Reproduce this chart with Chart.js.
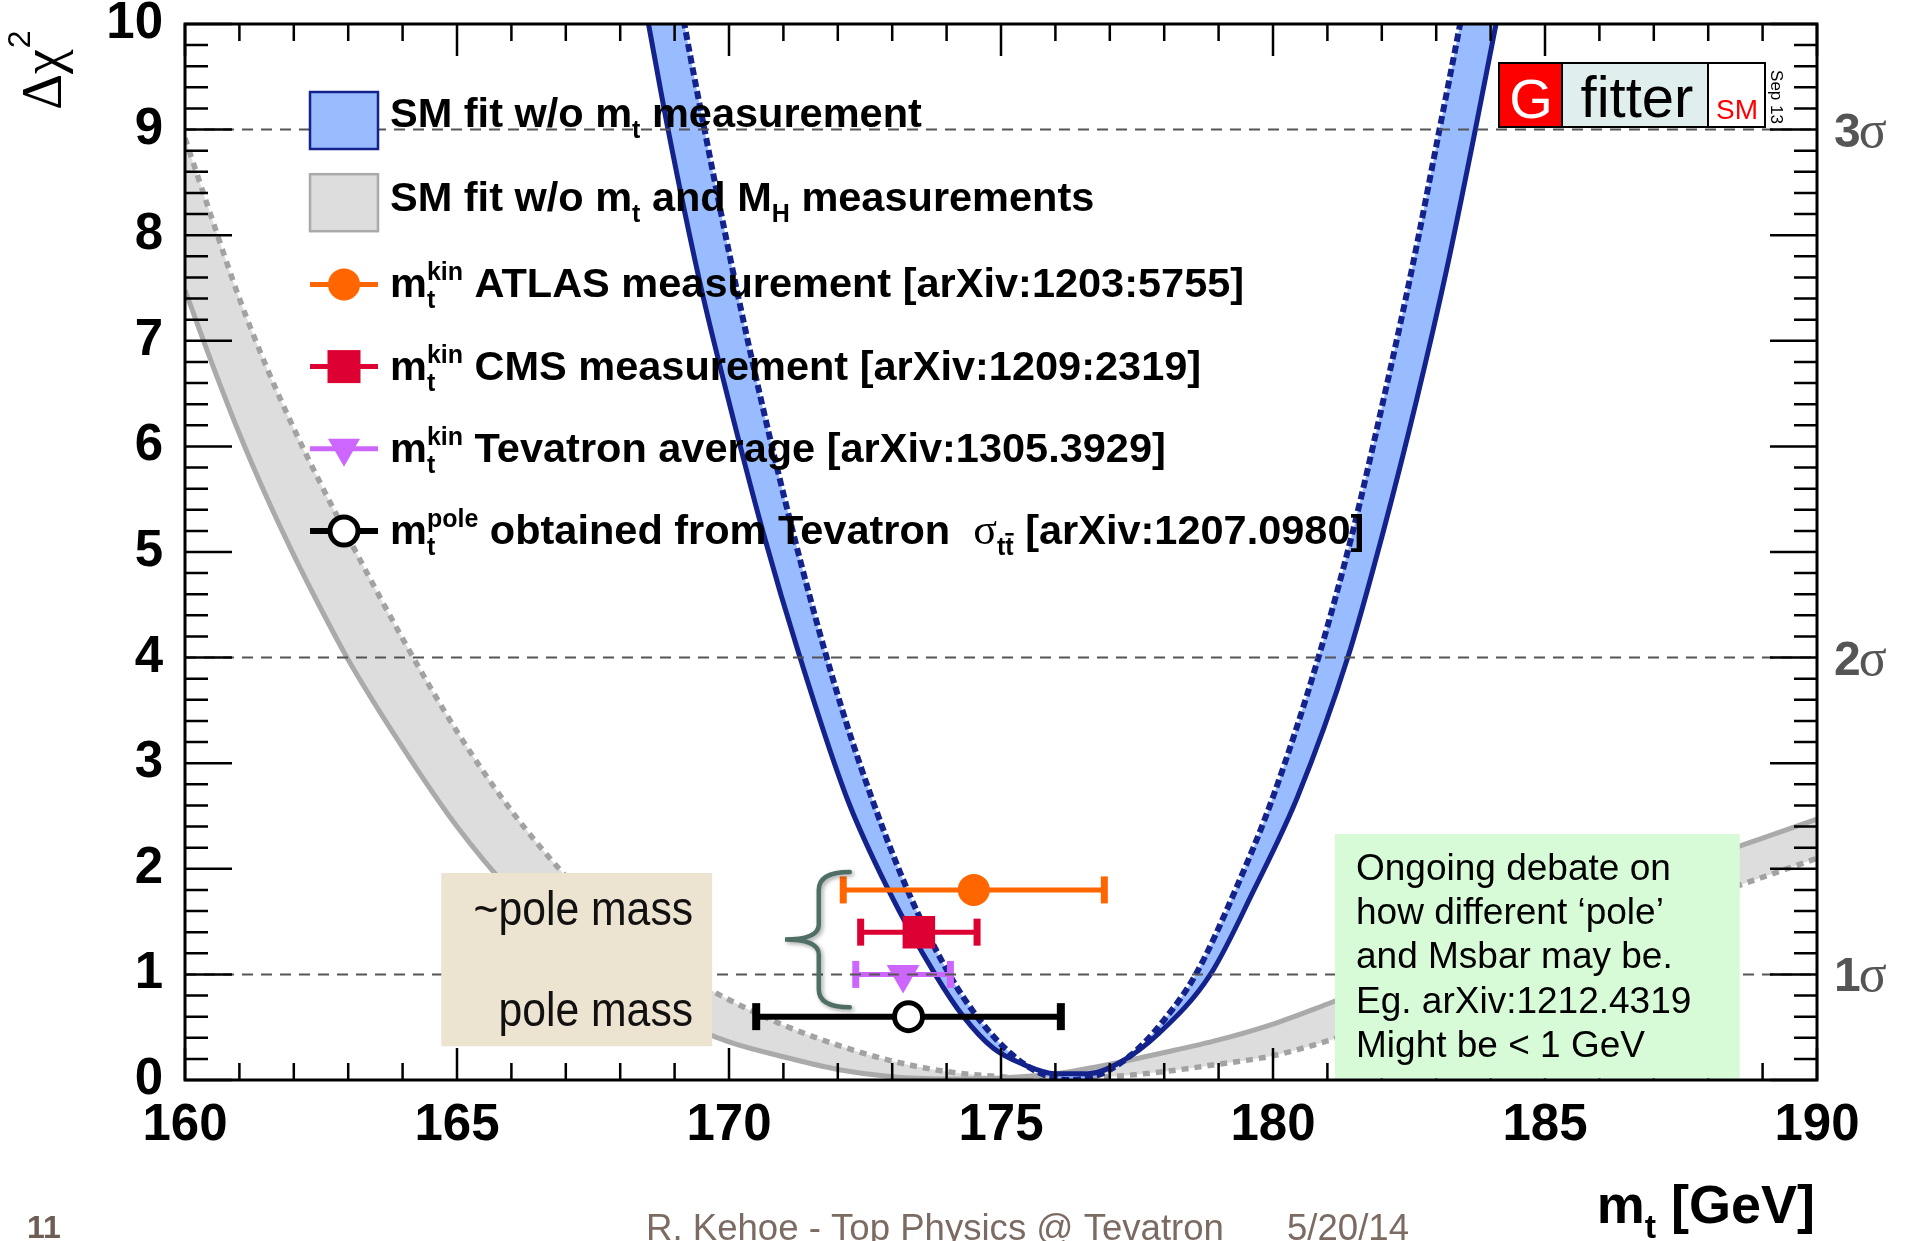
<!DOCTYPE html>
<html>
<head>
<meta charset="utf-8">
<title>Δχ² versus m_t</title>
<script src="https://cdn.jsdelivr.net/npm/chart.js@4.4.1/dist/chart.umd.min.js"></script>
<style>
  html, body { margin: 0; padding: 0; background: #fff; }
  canvas { display: block; }
</style>
</head>
<body>
<canvas id="chart" width="1912" height="1241"></canvas>
<script>
// SM fit without the m_t measurement: band edges (solid / dashed)
const fitMtX    = [168.35, 168.52, 168.88, 169.47, 169.99, 170.63, 171.30, 172.16, 172.93, 173.79, 174.31, 174.86, 175.40, 176.00, 176.60, 177.20, 177.90, 178.85, 179.65, 180.45, 181.38, 182.02, 182.64, 183.19, 183.72, 184.10, 184.35];
const fitMtY    = [10.47, 10.00, 9.00, 7.54, 6.44, 5.18, 4.01, 2.68, 1.80, 1.00, 0.60, 0.30, 0.15, 0.06, 0.06, 0.17, 0.44, 1.00, 1.80, 2.68, 4.01, 5.18, 6.44, 7.67, 9.00, 10.00, 10.68];
const fitMtAltX = [168.35, 169.18, 169.55, 170.12, 170.59, 171.18, 171.79, 172.38, 173.28, 174.05, 174.56, 175.18, 175.70, 176.25, 176.80, 177.40, 178.00, 178.58, 179.31, 180.00, 180.84, 181.46, 182.03, 182.55, 183.06, 183.44, 184.35];
const fitMtAltY = [12.50, 10.00, 9.00, 7.54, 6.44, 5.18, 4.01, 3.03, 1.80, 1.00, 0.60, 0.25, 0.07, 0.00, 0.05, 0.24, 0.57, 1.00, 1.80, 2.68, 4.01, 5.18, 6.44, 7.67, 9.00, 10.00, 12.50];

// SM fit without m_t and M_H: band edges (solid / dotted) on a common m_t grid
const fitMtMhX    = [160.0, 160.5, 161.0, 161.5, 162.0, 162.5, 163.0, 164.0, 165.0, 166.0, 167.0, 168.0, 169.0, 170.0, 171.0, 172.0, 173.0, 174.0, 175.0, 176.0, 177.0, 178.0, 179.0, 180.0, 181.0, 182.0, 183.0, 184.0, 185.0, 186.0, 187.0, 188.0, 189.0, 190.0];
const fitMtMhY    = [7.48, 6.78, 6.12, 5.52, 4.97, 4.46, 3.98, 3.15, 2.40, 1.78, 1.27, 0.88, 0.58, 0.36, 0.22, 0.10, 0.03, 0.01, 0.02, 0.06, 0.15, 0.26, 0.38, 0.53, 0.72, 0.92, 1.13, 1.34, 1.54, 1.73, 1.92, 2.11, 2.29, 2.47];
const fitMtMhAltY = [8.92, 8.15, 7.40, 6.75, 6.17, 5.64, 5.14, 4.18, 3.30, 2.55, 1.93, 1.42, 1.05, 0.76, 0.52, 0.33, 0.18, 0.08, 0.03, 0.00, 0.03, 0.08, 0.15, 0.23, 0.37, 0.54, 0.73, 0.93, 1.13, 1.34, 1.55, 1.74, 1.92, 2.10];

// direct top mass measurements (GeV) and the Δχ² height they are drawn at
const measNames = ['ATLAS', 'CMS', 'Tevatron', 'pole'];
const measMass  = [174.5, 173.49, 173.2, 173.3];
const measErr   = [2.4, 1.07, 0.87, 2.8];
const measLevel = [1.8, 1.4, 1.0, 0.6];

// confidence levels
const sigmaLevels = [1, 4, 9];
const sigmaNames  = ['1', '2', '3'];

// axes
const xMin = 160, xMax = 190, xStep = 5, xMinor = 1;
const yMin = 0, yMax = 10, yStep = 1, yMinor = 0.2;

// text boxes
const poleLines = ['~pole mass', 'pole mass'];
const noteLines = ['Ongoing debate on', 'how different \u2018pole\u2019', 'and Msbar may be.', 'Eg. arXiv:1212.4319', 'Might be < 1 GeV'];

// ---- styles ----
const SANS = "'Liberation Sans', Arial, Helvetica, sans-serif";
const SERIF = "'Liberation Serif', 'DejaVu Serif', 'Times New Roman', serif";
const NAVY = '#14238c';
const BLUE_FILL = '#99bbff';
const GREY_LINE = '#aaaaaa';
const GREY_FILL = '#dddddd';
const measColor = ['#ff6600', '#dd0033', '#cc66ff', '#000000'];
const markerStyle = ['circle', 'rect', 'triangle', 'circle'];
const markerRadius = [16, 23, 19, 14];
const markerRotation = [0, 0, 180, 0];

const pts = (xs, ys) => xs.map((x, i) => ({ x: x, y: ys[i] }));

const curveBase = { pointRadius: 0, cubicInterpolationMode: 'monotone', clip: 0 };

const datasets = [
  Object.assign({ data: pts(fitMtX, fitMtY), borderColor: NAVY, borderWidth: 5, fill: false, order: 3 }, curveBase),
  Object.assign({ data: pts(fitMtAltX, fitMtAltY), borderColor: NAVY, borderWidth: 6, borderDash: [8, 4],
                  fill: '-1', backgroundColor: BLUE_FILL, order: 3 }, curveBase),
  Object.assign({ data: pts(fitMtMhX, fitMtMhY), borderColor: GREY_LINE, borderWidth: 5, fill: false, order: 4 }, curveBase),
  Object.assign({ data: pts(fitMtMhX, fitMtMhAltY), borderColor: '#a2a2a2', borderWidth: 5.5, borderDash: [7, 6],
                  fill: '-1', backgroundColor: GREY_FILL, order: 4 }, curveBase),
];

measMass.forEach((m, i) => {
  const c = measColor[i];
  // horizontal error bar with end caps
  datasets.push({
    data: [{ x: m - measErr[i], y: measLevel[i] }, { x: m + measErr[i], y: measLevel[i] }],
    borderColor: c, borderWidth: i === 3 ? 6 : 5, fill: false,
    pointStyle: 'line', pointRotation: 90, pointRadius: 13.5,
    pointBorderWidth: i === 3 ? 8 : 7, pointBorderColor: c, order: 1, clip: false
  });
  // central value
  datasets.push({
    data: [{ x: m, y: measLevel[i] }], showLine: false,
    pointStyle: markerStyle[i], pointRadius: markerRadius[i], pointRotation: markerRotation[i],
    pointBackgroundColor: i === 3 ? '#ffffff' : c, pointBorderColor: c,
    pointBorderWidth: i === 3 ? 5 : 0, order: 0, clip: false
  });
});

// draw text squeezed horizontally by sx
function squeezed(ctx, str, x, y, sx, align) {
  const w = ctx.measureText(str).width * sx;
  const x0 = align === 'right' ? x - w : x;
  ctx.save();
  ctx.translate(x0, y);
  ctx.scale(sx, 1);
  ctx.textAlign = 'left';
  ctx.fillText(str, 0, 0);
  ctx.restore();
}

// legend rows with sub/superscripts
function richText(ctx, x, y, parts) {
  const main = 'bold 41.5px ' + SANS, small = 'bold 25px ' + SANS;
  for (const p of parts) {
    if (typeof p === 'string') {
      ctx.font = main;
      ctx.fillText(p, x, y);
      x += ctx.measureText(p).width;
    } else if (p.greek) {
      ctx.font = '44px ' + SERIF;
      ctx.fillText(p.greek, x, y);
      x += ctx.measureText(p.greek).width;
    } else {
      ctx.font = small;
      let w = 0;
      if (p.sub) {
        ctx.fillText(p.sub, x, y + 11);
        w = Math.max(w, ctx.measureText(p.sub).width);
        if (p.bar) {
          const tw = ctx.measureText('t').width;
          ctx.fillRect(x + w - tw, y + 11 - 22, tw, 2.5);
        }
      }
      if (p.sup) {
        ctx.fillText(p.sup, x, y - 17);
        w = Math.max(w, ctx.measureText(p.sup).width);
      }
      x += w;
    }
  }
  return x;
}

const overlay = {
  id: 'overlay',
  afterDatasetsDraw(chart) {
    const ctx = chart.ctx;
    const a = chart.chartArea;
    const xs = chart.scales.x, ys = chart.scales.y;
    const X = v => xs.getPixelForValue(v);
    const Y = v => ys.getPixelForValue(v);

    ctx.save();
    ctx.textBaseline = 'alphabetic';
    ctx.textAlign = 'left';

    // dashed 1σ / 2σ / 3σ levels
    ctx.save();
    ctx.beginPath();
    ctx.rect(a.left, a.top, a.right - a.left, a.bottom - a.top);
    ctx.clip();
    ctx.strokeStyle = '#555555';
    ctx.lineWidth = 2;
    ctx.setLineDash([11, 8]);
    sigmaLevels.forEach(l => {
      ctx.beginPath();
      ctx.moveTo(a.left, Y(l));
      ctx.lineTo(a.right, Y(l));
      ctx.stroke();
    });
    ctx.restore();

    // inward ticks on all four sides
    ctx.strokeStyle = '#000';
    ctx.lineWidth = 2.5;
    ctx.beginPath();
    for (let v = xMin; v <= xMax + 1e-9; v += xMinor) {
      const px = X(v);
      const len = Math.abs((v - xMin) % xStep) < 1e-6 ? 32 : 17;
      ctx.moveTo(px, a.bottom); ctx.lineTo(px, a.bottom - len);
      ctx.moveTo(px, a.top); ctx.lineTo(px, a.top + len);
    }
    const nMinor = Math.round((yMax - yMin) / yMinor);
    const perMajor = Math.round(yStep / yMinor);
    for (let i = 0; i <= nMinor; i++) {
      const py = Y(yMin + i * yMinor);
      const len = i % perMajor === 0 ? 47 : 23;
      ctx.moveTo(a.left, py); ctx.lineTo(a.left + len, py);
      ctx.moveTo(a.right, py); ctx.lineTo(a.right - len, py);
    }
    ctx.stroke();

    // "pole mass" box
    ctx.fillStyle = '#ede3d1';
    ctx.fillRect(X(164.71), Y(1.96), X(169.69) - X(164.71), Y(0.32) - Y(1.96));
    ctx.fillStyle = '#111';
    ctx.font = '48px ' + SANS;
    squeezed(ctx, poleLines[0], X(169.34), Y(1.96) + 52, 0.89, 'right');
    squeezed(ctx, poleLines[1], X(169.34), Y(1.96) + 153, 0.89, 'right');

    // note box
    ctx.fillStyle = '#d6fbd6';
    ctx.fillRect(X(181.14), Y(2.33), X(188.58) - X(181.14), Y(0) - Y(2.33) - 1.5);
    ctx.fillStyle = '#000';
    ctx.font = '37px ' + SANS;
    noteLines.forEach((s, i) => ctx.fillText(s, X(181.14) + 21, Y(2.33) + 46 + i * 44.2));

    // frame
    ctx.strokeStyle = '#000';
    ctx.lineWidth = 3;
    ctx.strokeRect(a.left, a.top, a.right - a.left, a.bottom - a.top);

    // brace grouping the kinematic measurements
    const bx0 = X(172.22), bx1 = X(171.65), bx2 = X(171.03);
    const by0 = Y(1.97), by1 = Y(1.33), by2 = Y(0.69);
    ctx.save();
    ctx.shadowColor = 'rgba(0,0,0,0.35)';
    ctx.shadowBlur = 4;
    ctx.shadowOffsetX = 2;
    ctx.shadowOffsetY = 2;
    ctx.strokeStyle = '#4e6e66';
    ctx.lineWidth = 4.5;
    ctx.lineCap = 'round';
    ctx.beginPath();
    ctx.moveTo(bx0, by0);
    ctx.quadraticCurveTo(bx1, by0, bx1, by0 + 18);
    ctx.lineTo(bx1, by1 - 15);
    ctx.quadraticCurveTo(bx1, by1, bx2, by1);
    ctx.quadraticCurveTo(bx1, by1, bx1, by1 + 15);
    ctx.lineTo(bx1, by2 - 18);
    ctx.quadraticCurveTo(bx1, by2, bx0, by2);
    ctx.stroke();
    ctx.restore();

    // legend
    const lx = a.left + 125, lw = 68, rowGap = 82.2, row0 = a.top + 96;
    const rowY = i => row0 + i * rowGap;
    ctx.lineWidth = 2.5;
    ctx.fillStyle = BLUE_FILL; ctx.strokeStyle = NAVY;
    ctx.fillRect(lx, rowY(0) - 28, lw, 57); ctx.strokeRect(lx, rowY(0) - 28, lw, 57);
    ctx.fillStyle = GREY_FILL; ctx.strokeStyle = GREY_LINE;
    ctx.fillRect(lx, rowY(1) - 28, lw, 57); ctx.strokeRect(lx, rowY(1) - 28, lw, 57);
    for (let i = 0; i < 4; i++) {
      const cy = rowY(i + 2), cx = lx + lw / 2, c = measColor[i];
      ctx.strokeStyle = c; ctx.fillStyle = c;
      ctx.lineWidth = i === 3 ? 6 : 5;
      ctx.beginPath(); ctx.moveTo(lx, cy); ctx.lineTo(lx + lw, cy); ctx.stroke();
      ctx.beginPath();
      if (i === 0) {
        ctx.arc(cx, cy, 16, 0, Math.PI * 2); ctx.fill();
      } else if (i === 1) {
        ctx.fillRect(cx - 16.5, cy - 16.5, 33, 33);
      } else if (i === 2) {
        ctx.moveTo(cx - 16, cy - 10); ctx.lineTo(cx + 16, cy - 10); ctx.lineTo(cx, cy + 18); ctx.closePath(); ctx.fill();
      } else {
        ctx.arc(cx, cy, 14, 0, Math.PI * 2);
        ctx.fillStyle = '#fff'; ctx.fill();
        ctx.lineWidth = 5; ctx.stroke();
      }
    }
    ctx.fillStyle = '#000';
    const tx = lx + 80;
    richText(ctx, tx, rowY(0) + 7, ['SM fit w/o m', { sub: 't' }, ' measurement']);
    richText(ctx, tx, rowY(1) + 9, ['SM fit w/o m', { sub: 't' }, ' and M', { sub: 'H' }, ' measurements']);
    richText(ctx, tx, rowY(2) + 13, ['m', { sub: 't', sup: 'kin' }, ' ' + measNames[0] + ' measurement [arXiv:1203:5755]']);
    richText(ctx, tx, rowY(3) + 13, ['m', { sub: 't', sup: 'kin' }, ' ' + measNames[1] + ' measurement [arXiv:1209:2319]']);
    richText(ctx, tx, rowY(4) + 13, ['m', { sub: 't', sup: 'kin' }, ' ' + measNames[2] + ' average [arXiv:1305.3929]']);
    richText(ctx, tx, rowY(5) + 13, ['m', { sub: 't', sup: 'pole' }, ' obtained from Tevatron  ', { greek: '\u03c3' },
                                     { sub: 'tt', bar: true }, ' [arXiv:1207.0980]']);

    // Gfitter logo
    const gx = a.right - 318, gy = a.top + 39, gh = 64;
    ctx.fillStyle = '#ff0000'; ctx.fillRect(gx, gy, 63, gh);
    ctx.fillStyle = '#e0efed'; ctx.fillRect(gx + 63, gy, 146, gh);
    ctx.fillStyle = '#ffffff'; ctx.fillRect(gx + 209, gy, 57, gh);
    ctx.strokeStyle = '#000'; ctx.lineWidth = 2;
    ctx.strokeRect(gx, gy, 266, gh);
    ctx.beginPath();
    ctx.moveTo(gx + 63, gy); ctx.lineTo(gx + 63, gy + gh);
    ctx.moveTo(gx + 209, gy); ctx.lineTo(gx + 209, gy + gh);
    ctx.stroke();
    ctx.textAlign = 'center';
    ctx.fillStyle = '#fff'; ctx.font = '56px ' + SANS; ctx.fillText('G', gx + 32, gy + 55);
    ctx.fillStyle = '#000'; ctx.font = '58px ' + SANS; ctx.fillText('fitter', gx + 138, gy + 54);
    ctx.fillStyle = '#ff0000'; ctx.font = '28px ' + SANS; ctx.fillText('SM', gx + 238, gy + 56);
    ctx.save();
    ctx.translate(gx + 272, gy + 34);
    ctx.rotate(Math.PI / 2);
    ctx.fillStyle = '#000'; ctx.font = '17px ' + SANS;
    ctx.fillText('Sep 13', 0, 0);
    ctx.restore();
    ctx.textAlign = 'left';

    // σ labels on the right
    sigmaLevels.forEach((l, i) => {
      const py = Y(l) + 17;
      ctx.fillStyle = '#555555';
      ctx.font = 'bold 48px ' + SANS;
      ctx.fillText(sigmaNames[i], a.right + 17, py);
      const w = ctx.measureText(sigmaNames[i]).width;
      ctx.font = '52px ' + SERIF;
      ctx.fillText('\u03c3', a.right + 17 + w - 2, py);
    });

    // axis titles
    ctx.fillStyle = '#000';
    ctx.font = 'bold 54px ' + SANS;
    const mW = ctx.measureText('m').width, gW = ctx.measureText(' [GeV]').width;
    ctx.font = 'bold 34px ' + SANS;
    const tW = ctx.measureText('t').width;
    const x0 = a.right - 2 - mW - tW - gW, base = a.bottom + 143;
    ctx.font = 'bold 54px ' + SANS; ctx.fillText('m', x0, base);
    ctx.font = 'bold 34px ' + SANS; ctx.fillText('t', x0 + mW, base + 15);
    ctx.font = 'bold 54px ' + SANS; ctx.fillText(' [GeV]', x0 + mW + tW, base);

    ctx.save();
    ctx.translate(a.left - 124, a.top + 86);
    ctx.rotate(-Math.PI / 2);
    ctx.font = '56px ' + SERIF;
    ctx.fillText('\u0394\u03c7', 0, 0);
    const dw = ctx.measureText('\u0394\u03c7').width;
    ctx.font = '32px ' + SANS;
    ctx.fillText('2', dw + 1, -31);
    ctx.restore();

    // slide footer
    ctx.fillStyle = '#6e5d52';
    ctx.font = 'bold 32px ' + SANS;
    ctx.fillText('11', 27, 1238);
    ctx.fillStyle = '#7b6b62';
    ctx.font = '36.6px ' + SANS;
    ctx.fillText('R. Kehoe - Top Physics @ Tevatron', 646, 1240);
    ctx.fillText('5/20/14', 1287, 1240);

    ctx.restore();
  }
};

const tickFont = { family: SANS, size: 51, weight: 'bold', lineHeight: 1 };

new Chart(document.getElementById('chart'), {
  type: 'line',
  data: { datasets: datasets },
  options: {
    responsive: false,
    animation: false,
    events: [],
    layout: { padding: { left: 0, top: 24, right: 95, bottom: 0 } },
    plugins: { legend: { display: false }, tooltip: { enabled: false } },
    scales: {
      x: {
        type: 'linear', min: xMin, max: xMax,
        grid: { display: false, drawTicks: false }, border: { display: false },
        ticks: { stepSize: xStep, font: tickFont, color: '#000', padding: 20, maxRotation: 0, autoSkip: false },
        afterFit: s => { s.height = 161; }
      },
      y: {
        type: 'linear', min: yMin, max: yMax,
        grid: { display: false, drawTicks: false }, border: { display: false },
        ticks: { stepSize: yStep, font: tickFont, color: '#000', padding: 22 },
        afterFit: s => { s.width = 185; s.paddingTop = 0; s.paddingBottom = 0; }
      }
    }
  },
  plugins: [overlay]
});
</script>
</body>
</html>
